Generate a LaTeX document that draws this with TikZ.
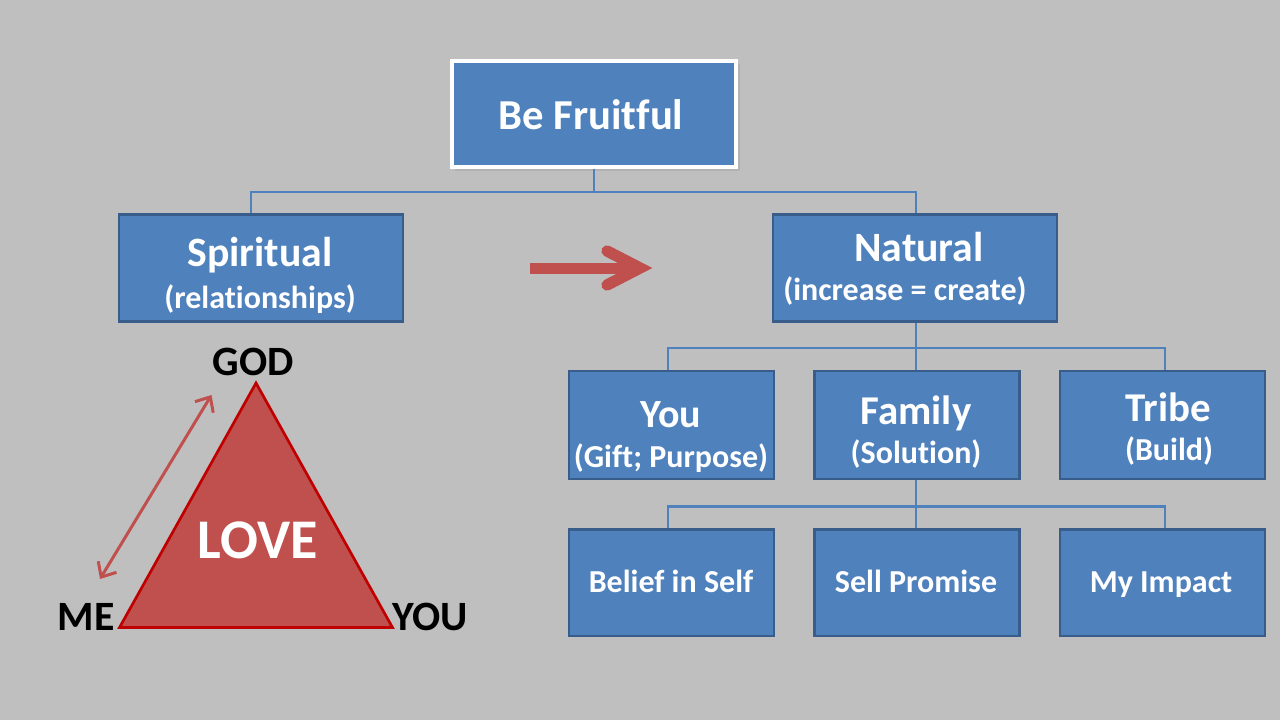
\documentclass[tikz,border=0pt]{standalone}
\usepackage{fontspec}
\setmainfont{Carlito}[Ligatures=NoCommon]
\usetikzlibrary{arrows.meta}
\definecolor{bg}{RGB}{191,191,191}
\definecolor{boxblue}{RGB}{79,129,189}
\definecolor{boxedge}{RGB}{56,93,138}
\definecolor{accred}{RGB}{192,80,77}
\definecolor{darkred}{RGB}{192,0,0}
\newcommand{\fs}[1]{\fontsize{#1}{#1}\selectfont\bfseries}
\tikzset{
  box/.style={draw=boxedge, line width=2pt, fill=boxblue, inner sep=0pt, minimum width=#1},
  box/.default=213pt,
  topbox/.style={draw=white, line width=2.5pt, fill=boxblue, inner sep=0pt, minimum width=213pt, minimum height=79.5pt},
  wtxt/.style={text=white, anchor=base, inner sep=0pt},
  btxt/.style={text=black, anchor=base, inner sep=0pt},
  conn/.style={draw=boxblue, line width=2.1pt},
}
\begin{document}
\begin{tikzpicture}[x=0.75pt,y=-0.75pt]
\fill[bg] (0,0) rectangle (1280,720);
\useasboundingbox (0,0) rectangle (1280,720);

% shadow of top box
\fill[black!35, opacity=0.5] (455,64) rectangle (740,171);
\node[topbox] (bf) at (594,114) {};
\node[wtxt] (bft) at (591,130) {\fs{32}Be Fruitful};

% level 1
\node[box, minimum height=80pt] (sp) at (261,268) {};
\node[wtxt] (spt1) at (260,266) {\fs{31.3}Spiritual};
\node[wtxt] (spt2) at (260,308) {\fs{24}(relationships)};

\node[box, minimum height=80pt] (na) at (915,268) {};
\node[wtxt] (nat1) at (919,261) {\fs{31.3}Natural};
\node[wtxt] (nat2) at (905,300) {\fs{24}(increase = create)};

% level 2
\node[box=153.75pt, minimum height=81pt] (yo) at (671.5,425) {};
\node[wtxt] (yot1) at (671,427) {\fs{30}You};
\node[wtxt] (yot2) at (671,467) {\fs{24}(Gift; Purpose)};

\node[box=153.75pt, minimum height=81pt] (fa) at (917,425) {};
\node[wtxt] (fat1) at (916,424) {\fs{30.7}Family};
\node[wtxt] (fat2) at (916,463) {\fs{24}(Solution)};

\node[box=153.75pt, minimum height=81pt] (tr) at (1162.5,425) {};
\node[wtxt] (trt1) at (1168,421) {\fs{30.7}Tribe};
\node[wtxt] (trt2) at (1169,460) {\fs{24}(Build)};

% level 3
\node[box=153.75pt, minimum height=80pt] (be) at (671.5,582.5) {};
\node[wtxt] (bet) at (671,592) {\fs{24}Belief in Self};
\node[box=153.75pt, minimum height=80pt] (se) at (917,582.5) {};
\node[wtxt] (set) at (916,592) {\fs{24}Sell Promise};
\node[box=153.75pt, minimum height=80pt] (my) at (1162.5,582.5) {};
\node[wtxt] (myt) at (1161,592) {\fs{24}My Impact};

% connectors
\coordinate (j1) at (594,192);
\draw[conn] (bf.south -| j1) -- (j1);
\draw[conn] (sp.north -| 251,0) |- (j1) -| (na.north -| 916,0);
\coordinate (j2) at (916,348);
\draw[conn] (na.south -| j2) -- (j2);
\draw[conn] (yo.north -| 668,0) |- (j2) -| (tr.north -| 1165,0);
\draw[conn] (j2) -- (fa.north -| j2);
\coordinate (j3) at (916,506.5);
\draw[conn] (fa.south -| j3) -- (j3);
\draw[conn] (be.north -| 668,0) |- (j3) -| (my.north -| 1165,0);
\draw[conn] (j3) -- (se.north -| j3);

% big red arrow
\coordinate (a0) at (530,268);
\coordinate (a1) at (634,268);
\draw[accred, line width=8.25pt] (a0) -- (a1);
\draw[accred, line width=8.5pt, line cap=round, line join=miter] (607,251) -- (640,268) -- (607,285);

% triangle
\coordinate (me) at (119.5,627.5);
\coordinate (yu) at (392.5,627.5);
\coordinate (gd) at (256,383);
\filldraw[fill=accred, draw=darkred, line width=2pt, line join=miter] (me) -- (yu) -- (gd) -- cycle;
\node[wtxt] (love) at (258,558) {\fs{42}LOVE};
\node[btxt] (god) at (253,375) {\fs{31.3}GOD};
\node[btxt] (met) at (86,630) {\fs{31.3}ME};
\node[btxt] (yout) at (430,630) {\fs{31.3}YOU};

% double arrow
\coordinate (d0) at (100,579);
\coordinate (d1) at (211.5,395);
\draw[accred, line width=2.25pt, {Straight Barb[length=9pt,width=16pt]}-{Straight Barb[length=9pt,width=16pt]}] (d0) -- (d1);
\end{tikzpicture}
\end{document}
